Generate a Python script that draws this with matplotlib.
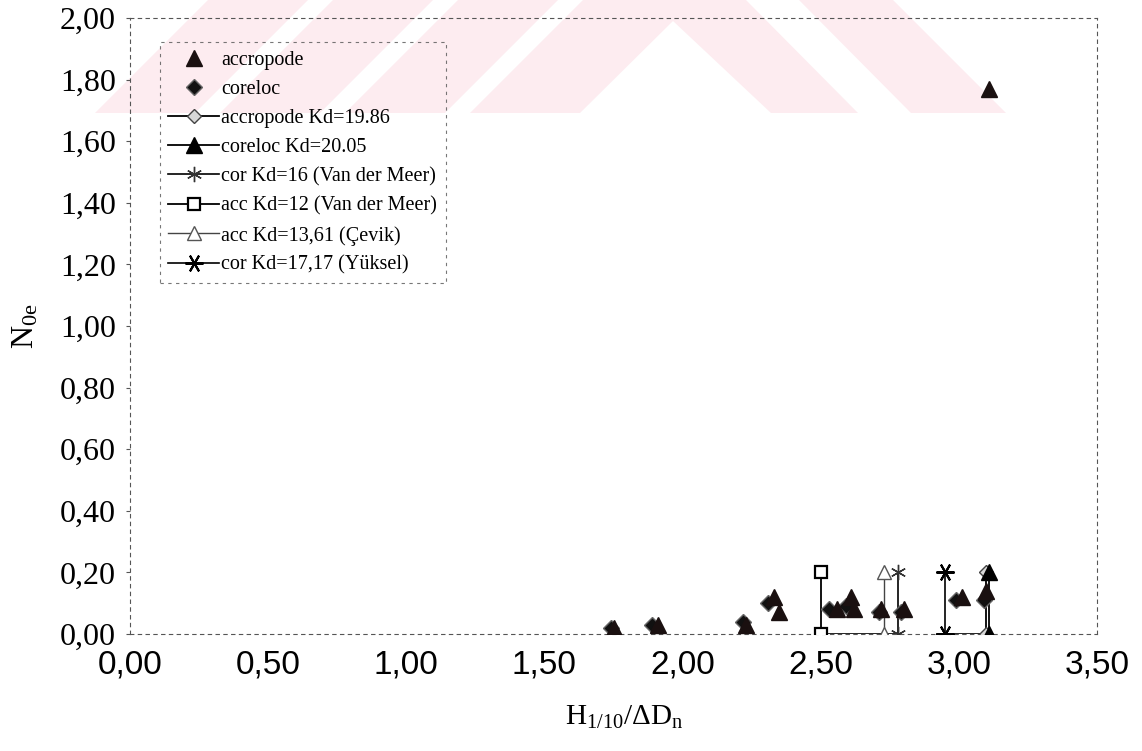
import matplotlib
matplotlib.use("Agg")
import matplotlib.pyplot as plt
from matplotlib.patches import Polygon
from matplotlib.ticker import FuncFormatter

plt.rcParams['font.family'] = ['Liberation Serif', 'DejaVu Serif']
plt.rcParams['mathtext.fontset'] = 'custom'
plt.rcParams['mathtext.rm'] = 'Liberation Serif'
plt.rcParams['mathtext.it'] = 'Liberation Serif:italic'

# measured points
acc_x = [1.75, 1.91, 2.23, 2.33, 2.35, 2.56, 2.61, 2.62, 2.72, 2.80, 3.01, 3.10, 3.11]
acc_y = [0.02, 0.03, 0.03, 0.12, 0.07, 0.08, 0.12, 0.08, 0.08, 0.08, 0.12, 0.14, 1.77]
cor_x = [1.74, 1.89, 2.22, 2.31, 2.53, 2.59, 2.71, 2.79, 2.99, 3.09]
cor_y = [0.02, 0.03, 0.04, 0.10, 0.08, 0.09, 0.07, 0.07, 0.11, 0.11]

# design lines (H/dDn for each Kd), drawn from N=0 to N=0.2
kd_levels = [0.0, 0.20]
acc_kd1986_x = 3.10
cor_kd2005_x = 3.11
cor_vdm_x = 2.78
acc_vdm_x = 2.50
acc_cevik_x = 2.73
cor_yuksel_x = 2.95

# solid bits along N=0
base_segments = [(2.50, 2.78), (2.92, 3.10)]

xticks = [0.0, 0.5, 1.0, 1.5, 2.0, 2.5, 3.0, 3.5]
yticks = [0.0, 0.2, 0.4, 0.6, 0.8, 1.0, 1.2, 1.4, 1.6, 1.8, 2.0]

W, H = 1142, 751
fig = plt.figure(figsize=(W / 100, H / 100), dpi=100)

# faint pink watermark behind the chart (pixel coords, y from top)
def px(pts):
    return [(x / W, 1 - y / H) for x, y in pts]

pink = '#fdecf0'
wm = []
for b in [95, 220, 345]:
    wm.append([(b, 113), (b + 100, 113), (b + 213, 0), (b + 113, 0)])
wm.append([(470, 113), (580, 113), (673, 21), (771, 113), (858, 113), (746, 0), (583, 0)])
wm.append([(911, 113), (1006, 113), (893, 0), (799, 0)])
for p in wm:
    fig.add_artist(Polygon(px(p), closed=True, transform=fig.transFigure,
                           facecolor=pink, edgecolor='none', zorder=-5))

ax = fig.add_axes([130 / W, 1 - 634 / H, 967 / W, 616 / H])
ax.patch.set_alpha(0)
ax.set_zorder(2)

ax.plot(acc_x, acc_y, linestyle='none', marker='^', ms=12, mfc='#1a1010',
        mec='#1a1010', label='accropode', zorder=5)
ax.plot(cor_x, cor_y, linestyle='none', marker='D', ms=8, mfc='#111111',
        mec='#666666', label='coreloc', zorder=4)
ax.plot([acc_kd1986_x] * 2, kd_levels, color='black', lw=1.3, marker='D', ms=7,
        mfc='#d8d8d8', mec='#444444', label='accropode Kd=19.86', zorder=3)
ax.plot([cor_kd2005_x] * 2, kd_levels, color='black', lw=1.3, marker='^', ms=11,
        mfc='black', mec='black', label='coreloc Kd=20.05', zorder=3)
ax.plot([cor_vdm_x] * 2, kd_levels, color='black', lw=1.2, marker=(6, 2, 0), ms=11,
        mew=1.0, mec='#333333', label='cor Kd=16 (Van der Meer)', zorder=3)
ax.plot([acc_vdm_x] * 2, kd_levels, color='black', lw=1.3, marker='s', ms=9,
        mfc='white', mec='black', mew=1.6, label='acc Kd=12 (Van der Meer)', zorder=3)
ax.plot([acc_cevik_x] * 2, kd_levels, color='#444444', lw=1.0, marker='^', ms=10,
        mfc='white', mec='#555555', label='acc Kd=13,61 (Çevik)', zorder=3)
ax.plot([cor_yuksel_x] * 2, kd_levels, color='black', lw=1.2, marker=(6, 2, 90), ms=13,
        mew=1.5, mec='black', label='cor Kd=17,17 (Yüksel)', zorder=3)

for x0, x1 in base_segments:
    ax.plot([x0, x1], [0, 0], color='black', lw=1.2, zorder=2)

ax.set_xlim(0, 3.5)
ax.set_ylim(0, 2.0)
ax.set_xticks(xticks)
ax.set_yticks(yticks)
comma = FuncFormatter(lambda v, p: f'{v:.2f}'.replace('.', ','))
ax.xaxis.set_major_formatter(comma)
ax.yaxis.set_major_formatter(comma)
ax.tick_params(axis='x', length=0, pad=11, labelsize=24)
ax.tick_params(axis='y', length=3, width=0.8, pad=7, labelsize=23, color='#555555')
for lab in ax.get_xticklabels():
    lab.set_fontfamily('Liberation Sans')

for side, sp in ax.spines.items():
    sp.set_linestyle((0, (3, 4)))
    sp.set_linewidth(0.8)
    sp.set_color('#555555')

ax.set_xlabel(r'$\mathrm{H_{1/10}/\Delta D_n}$', fontsize=21)
ax.xaxis.set_label_coords(0.511, -0.113)
ax.set_ylabel(r'$\mathrm{N_{0e}}$', fontsize=23, labelpad=14)

leg = ax.legend(loc='upper left', bbox_to_anchor=(0.031, 0.961), fontsize=14.5,
                frameon=True, fancybox=False, numpoints=1, handlelength=2.5,
                handletextpad=0.12, labelspacing=0.5, borderpad=0.42,
                borderaxespad=0)
fr = leg.get_frame()
fr.set_linestyle((0, (3, 4)))
fr.set_edgecolor('#555555')
fr.set_linewidth(0.8)
fr.set_facecolor('none')

fig.savefig('out.png', dpi=100)
